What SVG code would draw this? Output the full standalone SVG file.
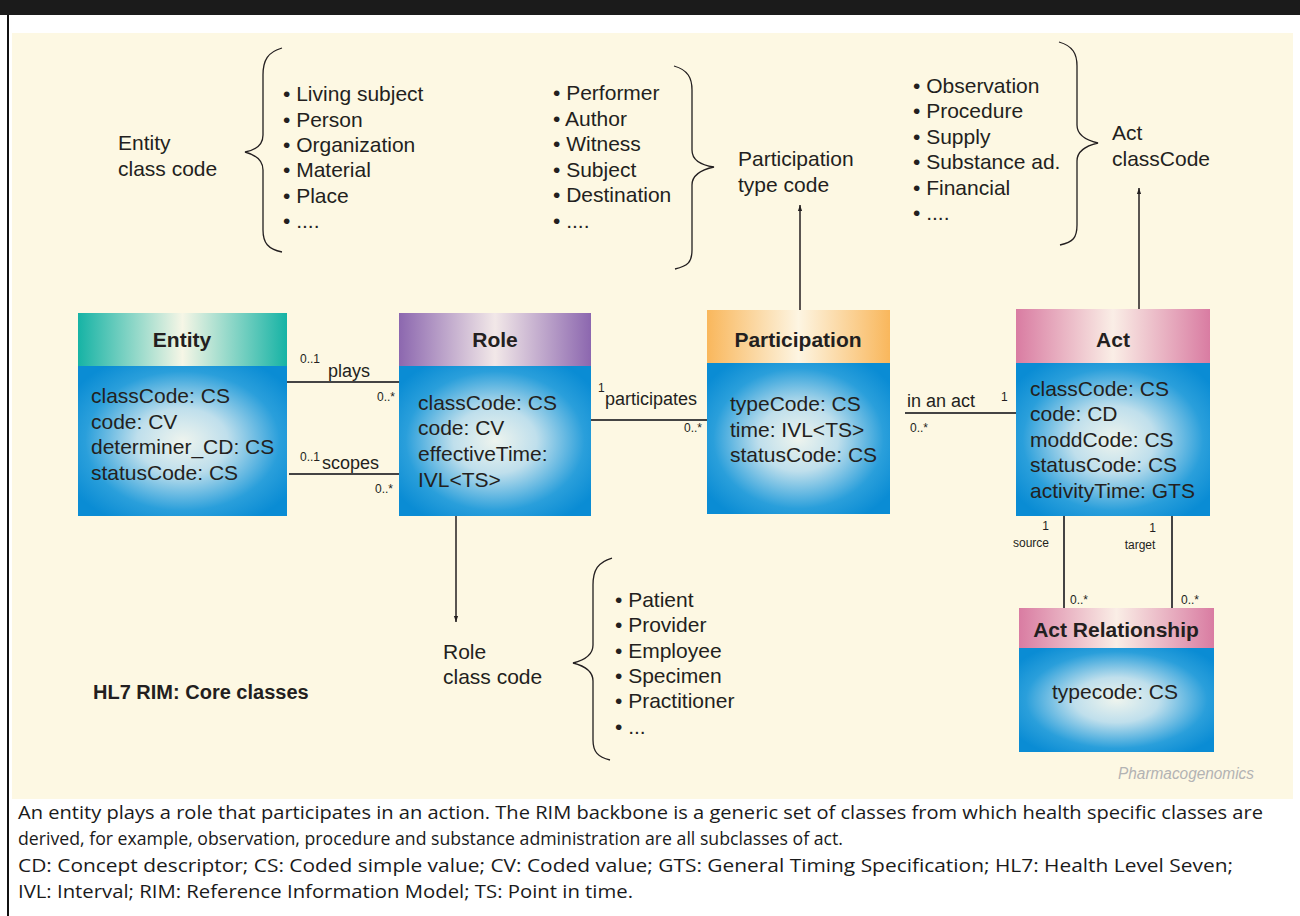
<svg xmlns="http://www.w3.org/2000/svg" width="1300" height="916" viewBox="0 0 1300 916">
<defs>
<style>
.t{font-family:"Liberation Sans",Arial,sans-serif;fill:#231f20;}
.list{font-size:21px;}
.attr{font-size:21px;}
.hdr{font-size:21px;font-weight:bold;text-anchor:middle;}
.sm{font-size:12px;}
.lbl{font-size:18px;}
.brace{fill:none;stroke:#231f20;stroke-width:1.3;}
.assoc{stroke:#444;stroke-width:2;fill:none;}
.arr{stroke:#231f20;stroke-width:1.5;fill:none;}
.cap{font-family:"Open Sans","Liberation Sans",sans-serif;font-size:19px;fill:#1a1a1a;}
</style>
<radialGradient id="body" cx="0.5" cy="0.5" r="0.62">
<stop offset="0" stop-color="#eef4ee"/>
<stop offset="0.35" stop-color="#bfdfec"/>
<stop offset="0.75" stop-color="#2a9fdb"/>
<stop offset="1" stop-color="#0a8cd4"/>
</radialGradient>
<linearGradient id="gTeal" x1="0" y1="0" x2="1" y2="0">
<stop offset="0" stop-color="#16b3a5"/>
<stop offset="0.5" stop-color="#f6f6e6"/>
<stop offset="1" stop-color="#16b3a5"/>
</linearGradient>
<linearGradient id="gPurple" x1="0" y1="0" x2="1" y2="0">
<stop offset="0" stop-color="#8c67af"/>
<stop offset="0.5" stop-color="#f2e8e8"/>
<stop offset="1" stop-color="#8c67af"/>
</linearGradient>
<linearGradient id="gOrange" x1="0" y1="0" x2="1" y2="0">
<stop offset="0" stop-color="#f9b75c"/>
<stop offset="0.5" stop-color="#fdf5e2"/>
<stop offset="1" stop-color="#f9b75c"/>
</linearGradient>
<linearGradient id="gPink" x1="0" y1="0" x2="1" y2="0">
<stop offset="0" stop-color="#d97ca2"/>
<stop offset="0.5" stop-color="#faeee6"/>
<stop offset="1" stop-color="#d97ca2"/>
</linearGradient>
<marker id="ah" viewBox="0 0 10 10" refX="10" refY="5" markerWidth="6" markerHeight="8" markerUnits="userSpaceOnUse" orient="auto">
<path d="M0,1.5 L10,5 L0,8.5 Z" fill="#231f20"/>
</marker>
</defs>

<!-- frame -->
<rect x="0" y="0" width="1300" height="15" fill="#1b1b1b"/>
<rect x="0" y="15" width="1300" height="901" fill="#ffffff"/>
<line x1="8" y1="15" x2="8" y2="916" stroke="#111" stroke-width="2"/>
<rect x="12" y="33" width="1281" height="766" fill="#fdf8e3"/>

<!-- annotations: braces and lists -->
<g id="entity-class-code">
<text class="t list" x="118" y="150">Entity</text>
<text class="t list" x="118" y="176">class code</text>
<path class="brace" d="M282,48 C268,52 263,60 263,75 L263,135 C263,145 256,150 245,152 C256,155 263,160 263,170 L263,230 C263,243 268,249 282,252"/>
<text class="t list" x="283"><tspan x="283" y="101">• Living subject</tspan><tspan x="283" y="127">• Person</tspan><tspan x="283" y="152">• Organization</tspan><tspan x="283" y="177">• Material</tspan><tspan x="283" y="203">• Place</tspan><tspan x="283" y="228">• ....</tspan></text>
</g>

<g id="participation-type-code">
<text class="t list" x="553"><tspan x="553" y="100">• Performer</tspan><tspan x="553" y="126">• Author</tspan><tspan x="553" y="151">• Witness</tspan><tspan x="553" y="177">• Subject</tspan><tspan x="553" y="202">• Destination</tspan><tspan x="553" y="228">• ....</tspan></text>
<path class="brace" d="M674,66 C688,70 692,78 692,90 L692,150 C692,160 700,165 714,167 C700,170 692,175 692,185 L692,250 C692,262 688,266 675,269"/>
<text class="t list" x="738" y="166">Participation</text>
<text class="t list" x="738" y="192">type code</text>
</g>

<g id="act-class-code">
<text class="t list" x="913"><tspan x="913" y="93">• Observation</tspan><tspan x="913" y="118">• Procedure</tspan><tspan x="913" y="144">• Supply</tspan><tspan x="913" y="169">• Substance ad.</tspan><tspan x="913" y="195">• Financial</tspan><tspan x="913" y="220">• ....</tspan></text>
<path class="brace" d="M1059,42 C1073,46 1077,54 1077,66 L1077,125 C1077,135 1085,140 1098,143 C1085,146 1077,151 1077,161 L1077,225 C1077,238 1073,242 1060,245"/>
<text class="t list" x="1112" y="140">Act</text>
<text class="t list" x="1112" y="166">classCode</text>
</g>

<g id="role-class-code">
<text class="t list" x="443" y="659">Role</text>
<text class="t list" x="443" y="684">class code</text>
<path class="brace" d="M612,558 C598,562 593,570 593,585 L593,645 C593,655 585,660 573,663 C585,666 593,671 593,681 L593,740 C593,752 598,757 610,760"/>
<text class="t list" x="615"><tspan x="615" y="607">• Patient</tspan><tspan x="615" y="632">• Provider</tspan><tspan x="615" y="658">• Employee</tspan><tspan x="615" y="683">• Specimen</tspan><tspan x="615" y="708">• Practitioner</tspan><tspan x="615" y="734">• ...</tspan></text>
</g>

<text class="t" x="93" y="699" style="font-size:20px;font-weight:bold">HL7 RIM: Core classes</text>

<!-- connectors -->
<g id="connectors">
<line class="assoc" x1="287" y1="382" x2="399" y2="382"/>
<line class="assoc" x1="289" y1="474" x2="399" y2="474"/>
<line class="assoc" x1="591" y1="420" x2="707" y2="420"/>
<line class="assoc" x1="905" y1="413" x2="1016" y2="413"/>
<line class="assoc" x1="1064" y1="516" x2="1064" y2="608"/>
<line class="assoc" x1="1172" y1="516" x2="1172" y2="608"/>
<line class="arr" x1="456" y1="516" x2="456" y2="622" marker-end="url(#ah)"/>
<line class="arr" x1="800" y1="310" x2="800" y2="205" marker-end="url(#ah)"/>
<line class="arr" x1="1139" y1="309" x2="1139" y2="188" marker-end="url(#ah)"/>
<text class="t sm" x="300" y="363">0..1</text>
<text class="t lbl" x="328" y="377">plays</text>
<text class="t sm" x="377" y="401">0..*</text>
<text class="t sm" x="300" y="461">0..1</text>
<text class="t lbl" x="322" y="469">scopes</text>
<text class="t sm" x="375" y="493">0..*</text>
<text class="t sm" x="598" y="392">1</text>
<text class="t lbl" x="605" y="405">participates</text>
<text class="t sm" x="684" y="432">0..*</text>
<text class="t lbl" x="907" y="407">in an act</text>
<text class="t sm" x="1001" y="401">1</text>
<text class="t sm" x="910" y="432">0..*</text>
<text class="t sm" x="1049" y="530" text-anchor="end">1</text>
<text class="t sm" x="1049" y="547" text-anchor="end">source</text>
<text class="t sm" x="1156" y="532" text-anchor="end">1</text>
<text class="t sm" x="1140" y="549" text-anchor="middle">target</text>
<text class="t sm" x="1070" y="604">0..*</text>
<text class="t sm" x="1181" y="604">0..*</text>
</g>

<!-- nodes -->
<g id="entity">
<rect x="78" y="366" width="209" height="150" fill="url(#body)"/>
<rect x="78" y="313" width="209" height="53" fill="url(#gTeal)"/>
<text class="t hdr" x="182" y="347">Entity</text>
<text class="t attr" x="91"><tspan x="91" y="403">classCode: CS</tspan><tspan x="91" y="429">code: CV</tspan><tspan x="91" y="454">determiner_CD: CS</tspan><tspan x="91" y="480">statusCode: CS</tspan></text>
</g>

<g id="role">
<rect x="399" y="366" width="192" height="150" fill="url(#body)"/>
<rect x="399" y="313" width="192" height="53" fill="url(#gPurple)"/>
<text class="t hdr" x="495" y="347">Role</text>
<text class="t attr" x="418"><tspan x="418" y="410">classCode: CS</tspan><tspan x="418" y="435">code: CV</tspan><tspan x="418" y="461">effectiveTime:</tspan><tspan x="418" y="487">IVL&lt;TS&gt;</tspan></text>
</g>

<g id="participation">
<rect x="707" y="363" width="183" height="151" fill="url(#body)"/>
<rect x="707" y="310" width="183" height="53" fill="url(#gOrange)"/>
<text class="t hdr" x="798" y="347">Participation</text>
<text class="t attr" x="730"><tspan x="730" y="411">typeCode: CS</tspan><tspan x="730" y="437">time: IVL&lt;TS&gt;</tspan><tspan x="730" y="462">statusCode: CS</tspan></text>
</g>

<g id="act">
<rect x="1016" y="363" width="194" height="153" fill="url(#body)"/>
<rect x="1016" y="309" width="194" height="54" fill="url(#gPink)"/>
<text class="t hdr" x="1113" y="347">Act</text>
<text class="t attr" x="1030"><tspan x="1030" y="396">classCode: CS</tspan><tspan x="1030" y="421">code: CD</tspan><tspan x="1030" y="447">moddCode: CS</tspan><tspan x="1030" y="472">statusCode: CS</tspan><tspan x="1030" y="498">activityTime: GTS</tspan></text>
</g>

<g id="act-relationship">
<rect x="1019" y="648" width="195" height="104" fill="url(#body)"/>
<rect x="1019" y="608" width="195" height="40" fill="url(#gPink)"/>
<text class="t hdr" x="1116" y="637">Act Relationship</text>
<text class="t attr" x="1115" y="699" text-anchor="middle">typecode: CS</text>
</g>

<text x="1118" y="779" textLength="136" lengthAdjust="spacingAndGlyphs" style="font-family:'Liberation Sans',Arial,sans-serif;font-size:16px;font-style:italic;fill:#b3b3b3">Pharmacogenomics</text>

<!-- caption -->
<g id="caption">
<text class="cap" x="18" y="819" textLength="1245" lengthAdjust="spacingAndGlyphs">An entity plays a role that participates in an action. The RIM backbone is a generic set of classes from which health specific classes are</text>
<text class="cap" x="18" y="845" textLength="825" lengthAdjust="spacingAndGlyphs">derived, for example, observation, procedure and substance administration are all subclasses of act.</text>
<text class="cap" x="18" y="872" textLength="1215" lengthAdjust="spacingAndGlyphs">CD: Concept descriptor; CS: Coded simple value; CV: Coded value; GTS: General Timing Specification; HL7: Health Level Seven;</text>
<text class="cap" x="18" y="898" textLength="615" lengthAdjust="spacingAndGlyphs">IVL: Interval; RIM: Reference Information Model; TS: Point in time.</text>
</g>
</svg>
